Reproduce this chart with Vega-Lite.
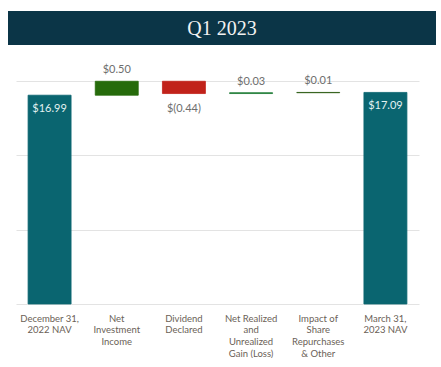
{
  "$schema": "https://vega.github.io/schema/vega-lite/v6.json",
  "padding": {"left": 8, "top": 11, "right": 5, "bottom": 0},
  "background": "white",
  "config": {"view": {"stroke": null}, "font": "Lato"},
  "spacing": 17,
  "vconcat": [
    {
      "width": 412,
      "height": 18,
      "view": {"fill": "#0b3547", "stroke": "#0b3547", "strokeWidth": 16},
      "data": {"values": [{"t": "Q1 2023"}]},
      "mark": {"type": "text", "font": "Liberation Serif", "fontSize": 20, "color": "#f2f2f2", "align": "center", "baseline": "middle", "dy": 1},
      "encoding": {"text": {"field": "t"}}
    },
    {
      "width": 403,
      "height": 223,
      "data": {"values": [
        {"label": "December 31,|2022 NAV", "cat": "total", "start": 9.5, "end": 16.99, "txt": "$16.99", "pos": "in"},
        {"label": "Net|Investment|Income", "cat": "nii", "start": 16.99, "end": 17.49, "txt": "$0.50", "pos": "up"},
        {"label": "Dividend|Declared", "cat": "div", "start": 17.49, "end": 17.05, "txt": "$(0.44)", "pos": "down"},
        {"label": "Net Realized|and|Unrealized|Gain (Loss)", "cat": "gain", "start": 17.05, "end": 17.08, "txt": "$0.03", "pos": "up"},
        {"label": "Impact of|Share|Repurchases|& Other", "cat": "share", "start": 17.08, "end": 17.09, "txt": "$0.01", "pos": "up"},
        {"label": "March 31,|2023 NAV", "cat": "total2", "start": 9.5, "end": 17.09, "txt": "$17.09", "pos": "in"}
      ]},
      "encoding": {
        "x": {
          "field": "label", "type": "nominal", "sort": null,
          "scale": {"paddingInner": 0.36, "paddingOuter": 0.18},
          "axis": {
            "title": null, "labelAngle": 0, "domain": false, "ticks": false, "grid": false,
            "labelExpr": "split(datum.label, '|')",
            "labelFont": "Lato", "labelFontSize": 9.5, "labelColor": "#6b5f57",
            "labelLineHeight": 11.8, "labelPadding": 9, "labelBaseline": "top"
          }
        }
      },
      "layer": [
        {
          "mark": {"type": "bar", "strokeWidth": 0.8},
          "encoding": {
            "y": {
              "field": "start", "type": "quantitative",
              "scale": {"domain": [9.5, 17.5], "zero": false, "nice": false},
              "axis": {
                "title": null, "labels": false, "ticks": false, "domain": false,
                "values": [9.5, 12.1667, 14.8333, 17.5],
                "grid": true, "gridColor": "#e3e3e3", "gridWidth": 1
              }
            },
            "y2": {"field": "end"},
            "color": {
              "field": "cat", "type": "nominal", "legend": null,
              "scale": {"domain": ["total", "nii", "div", "gain", "share", "total2"],
                        "range": ["#0a6570", "#266b0b", "#c1221a", "#1c7a33", "#2b5b12", "#0a6570"]}
            },
            "stroke": {
              "field": "cat", "type": "nominal", "legend": null,
              "scale": {"domain": ["total", "nii", "div", "gain", "share", "total2"],
                        "range": ["#0a6570", "#266b0b", "#c1221a", "#1c7a33", "#2b5b12", "#0a6570"]}
            }
          }
        },
        {
          "transform": [{"filter": "datum.pos == 'in'"}],
          "mark": {"type": "text", "fontSize": 11, "color": "#e3f1f1", "baseline": "middle", "dy": 14},
          "encoding": {"y": {"field": "end", "type": "quantitative"}, "text": {"field": "txt"}}
        },
        {
          "transform": [{"filter": "datum.pos == 'up'"}],
          "mark": {"type": "text", "fontSize": 11, "color": "#6e6e6e", "baseline": "bottom", "dy": -6},
          "encoding": {"y": {"field": "end", "type": "quantitative"}, "text": {"field": "txt"}}
        },
        {
          "transform": [{"filter": "datum.pos == 'down'"}],
          "mark": {"type": "text", "fontSize": 11, "color": "#6e6e6e", "baseline": "top", "dy": 9},
          "encoding": {"y": {"field": "end", "type": "quantitative"}, "text": {"field": "txt"}}
        }
      ]
    }
  ]
}
